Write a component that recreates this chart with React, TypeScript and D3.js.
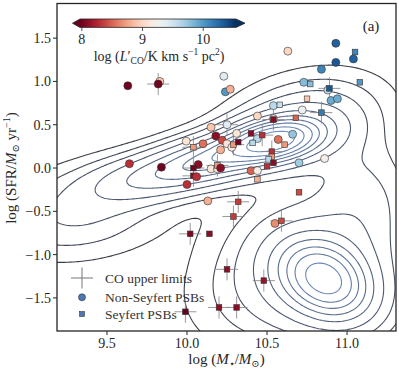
import React, { useMemo } from "react";
import * as d3 from "d3";

// background galaxy density, as a sum of gaussian blobs (mass, sfr, sx, sy, rho, weight)
const blobMass = [10.55, 10.7, 10.15, 9.75, 9.3, 10.87, 10.8, 10.4, 11.1];
const blobSfr = [0.32, 0.47, 0.1, -0.12, -0.55, -1.3, -1.2, -1.5, -0.4];
const blobSx = [0.2, 0.3, 0.25, 0.28, 0.35, 0.19, 0.3, 0.3, 0.22];
const blobSy = [0.17, 0.35, 0.2, 0.2, 0.32, 0.3, 0.5, 0.45, 0.5];
const blobRho = [0.3, 0.3, 0.35, 0.3, 0.15, -0.3, -0.2, 0, 0];
const blobW = [1.0, 0.35, 0.6, 0.35, 0.18, 0.75, 0.4, 0.1, 0.2];
const levels = [0.03, 0.07, 0.12, 0.2, 0.3, 0.4, 0.5, 0.6, 0.72, 0.85];

// PSB sample
const psbMass = [9.63, 9.83, 9.82, 10.23, 10.24, 10.27, 10.63, 10.93, 10.93, 11.05, 11.04, 10.84, 10.73, 10.77, 11.08, 10.88, 10.89, 10.9, 10.94, 10.75, 10.72, 10.84, 10.68, 10.54, 10.58, 10.44, 10.54, 10.54, 10.15, 10.25, 10.18, 10.22, 10.31, 10.4, 10.44, 10.41, 10.47, 10.57, 10.66, 10.61, 10.53, 10.53, 10.51, 10.54, 10.5, 10.7, 10.86, 9.995, 10.04, 10.1, 10.21, 10.25, 10.28, 10.29, 10.32, 9.64, 9.84, 10.07, 10.04, 10.04, 10.06, 10.15, 10.19, 10.19, 10.21, 10.0, 10.4, 10.44, 10.44, 10.13, 10.32, 10.29, 10.7, 10.55, 10.59, 10.02, 10.14, 10.25, 10.48, 10.2, 10.31, 9.99];
const psbSfr = [0.95, 1.0, 0.97, 1.06, 0.88, 0.91, 1.35, 1.44, 1.22, 1.34, 1.26, 1.14, 0.99, 0.97, 0.99, 0.9, 0.92, 0.78, 0.8, 0.8, 0.67, 0.64, 0.58, 0.72, 0.73, 0.6, 0.57, 0.56, 0.47, 0.5, 0.37, 0.32, 0.4, 0.4, 0.34, 0.29, 0.38, 0.33, 0.39, 0.27, 0.19, 0.13, 0.1, 0.06, 0.02, 0.06, 0.11, 0.31, 0.24, 0.28, 0.21, 0.28, 0.24, 0.27, 0.3, 0.05, 0.01, 0.04, 0.0, -0.09, -0.1, -0.01, -0.01, 0.03, 0.0, -0.19, -0.03, -0.03, -0.13, -0.38, -0.39, -0.56, -0.28, -0.64, -0.61, -0.76, -0.76, -1.17, -1.3, -1.61, -1.61, -1.66];
const psbLco = [8.0, 8.9, 8.0, 9.4, 10.0, 8.8, 9.0, 10.3, 10.35, 10.1, 10.3, 10.1, 9.8, 9.8, 10.0, 9.6, 10.35, 9.9, 9.9, 8.9, 9.3, 10.15, 8.5, 9.6, 9.55, 9.0, 9.1, 8.1, 8.9, 9.4, 8.1, 8.4, 9.1, 8.1, 9.6, 9.6, 8.3, 8.55, 9.75, 8.7, 8.3, 8.7, 9.6, 8.1, 8.3, 9.7, 9.2, 9.1, 8.7, 8.55, 8.8, 9.1, 9.1, 8.7, 8.0, 8.3, 8.0, 8.1, 8.0, 8.1, 8.3, 9.1, 9.1, 8.7, 8.1, 8.3, 8.5, 9.2, 8.8, 8.8, 8.35, 8.35, 8.4, 8.65, 8.4, 8.05, 8.1, 8.1, 8.15, 8.1, 8.1, 7.95];
const psbSeyfert = [0, 0, 0, 0, 0, 0, 0, 0, 0, 1, 0, 0, 0, 1, 1, 0, 1, 0, 0, 1, 0, 1, 1, 0, 1, 0, 0, 1, 0, 0, 0, 0, 0, 1, 0, 1, 1, 0, 0, 1, 1, 1, 1, 1, 1, 0, 0, 0, 1, 0, 0, 0, 0, 1, 1, 0, 0, 0, 1, 1, 0, 0, 0, 1, 0, 0, 0, 0, 1, 0, 1, 1, 1, 0, 1, 1, 1, 1, 1, 1, 1, 1];
const psbUpper = [0, 0, 1, 0, 0, 0, 0, 0, 0, 0, 0, 0, 0, 0, 0, 0, 1, 0, 0, 0, 0, 1, 0, 0, 0, 0, 0, 1, 0, 1, 0, 0, 0, 0, 0, 0, 1, 0, 0, 0, 1, 0, 0, 0, 0, 0, 0, 0, 1, 0, 0, 0, 0, 1, 0, 0, 0, 0, 1, 1, 0, 0, 0, 1, 0, 0, 0, 0, 0, 0, 1, 1, 0, 0, 1, 1, 0, 1, 1, 1, 1, 1];

const xTicks = [9.5, 10.0, 10.5, 11.0];
const yTicks = [-1.5, -1.0, -0.5, 0.0, 0.5, 1.0, 1.5];
const cbTicks = [8, 9, 10];
const cbRange = [7.97, 10.54];

const W = 399;
const H = 373;
const L = 57, R = 396, T = 3.5, B = 331;
const font = "'Liberation Serif', 'DejaVu Serif', serif";
const ink = "#262626";

export default function App() {
  const x = d3.scaleLinear().domain([9.1875, 11.306]).range([L, R]);
  const y = d3.scaleLinear().domain([-1.882, 1.9]).range([B, T]);
  const norm = d3.scaleLinear().domain(cbRange).range([0, 1]).clamp(true);
  const col = (v: number) => d3.interpolateRdBu(norm(v));

  const contours = useMemo(() => {
    const x0 = 8.9, x1 = 11.6, y0 = -2.2, y1 = 2.2;
    const n = 220, m = 260;
    const dx = (x1 - x0) / (n - 1), dy = (y1 - y0) / (m - 1);
    const vals = new Array(n * m);
    let mx = 0;
    for (let j = 0; j < m; j++) {
      const yy = y0 + j * dy;
      for (let i = 0; i < n; i++) {
        const xx = x0 + i * dx;
        let s = 0;
        for (let k = 0; k < blobW.length; k++) {
          const a = (xx - blobMass[k]) / blobSx[k];
          const b = (yy - blobSfr[k]) / blobSy[k];
          const r = blobRho[k];
          s += blobW[k] * Math.exp(-0.5 * (a * a - 2 * r * a * b + b * b) / (1 - r * r));
        }
        vals[j * n + i] = s;
        if (s > mx) mx = s;
      }
    }
    const gen = d3.contours().size([n, m]).thresholds(levels.map((l) => l * mx));
    const proj = d3.geoTransform({
      point(px: number, py: number) {
        this.stream.point(x(x0 + (px - 0.5) * dx), y(y0 + (py - 0.5) * dy));
      },
    });
    const path = d3.geoPath(proj);
    return gen(vals).map((c) => path(c) || "");
  }, []);

  const lineCol = d3.interpolateRgb("#3a3e48", "#6f8fc4");
  const cross = 11;

  const cbX = d3.scaleLinear().domain(cbRange).range([80, 236]);
  const stops = d3.range(0, 1.0001, 0.05);

  return (
    <svg width={W} height={H} style={{ display: "block", position: "absolute", left: 0, top: 0 }}>
      <defs>
        <clipPath id="plot">
          <rect x={L} y={T} width={R - L} height={B - T} />
        </clipPath>
        <linearGradient id="cb" x1="0" x2="1" y1="0" y2="0">
          {stops.map((s) => (
            <stop key={s} offset={s} stopColor={d3.interpolateRdBu(s)} />
          ))}
        </linearGradient>
      </defs>
      <rect width={W} height={H} fill="#fff" />

      <g clipPath="url(#plot)">
        {contours.map((d, i) => (
          <path key={i} d={d} fill="none" stroke={lineCol(i / (levels.length - 1))} strokeWidth={1.1} />
        ))}
        {psbMass.map((m, i) =>
          psbUpper[i] ? (
            <g key={"u" + i} stroke="#888" strokeWidth={1} opacity={0.85}>
              <line x1={x(m) - cross} x2={x(m) + cross} y1={y(psbSfr[i])} y2={y(psbSfr[i])} />
              <line x1={x(m)} x2={x(m)} y1={y(psbSfr[i]) - cross} y2={y(psbSfr[i]) + cross} />
            </g>
          ) : null
        )}
        {psbMass.map((m, i) =>
          psbSeyfert[i] ? (
            <rect key={"p" + i} x={x(m) - 2.8} y={y(psbSfr[i]) - 2.8} width={5.6} height={5.6}
              fill={col(psbLco[i])} stroke="#333" strokeWidth={0.6} />
          ) : (
            <circle key={"p" + i} cx={x(m)} cy={y(psbSfr[i])} r={4}
              fill={col(psbLco[i])} stroke="#333" strokeWidth={0.6} />
          )
        )}
      </g>

      {/* frame */}
      <rect x={L} y={T} width={R - L} height={B - T} fill="none" stroke={ink} strokeWidth={1.3} />
      {xTicks.map((t) => (
        <g key={t}>
          <line x1={x(t)} x2={x(t)} y1={B} y2={B + 4} stroke={ink} strokeWidth={1} />
          <text x={x(t)} y={B + 17} textAnchor="middle" fontFamily={font} fontSize={14} fill={ink}>
            {t.toFixed(1)}
          </text>
        </g>
      ))}
      {yTicks.map((t) => (
        <g key={t}>
          <line x1={L - 4} x2={L} y1={y(t)} y2={y(t)} stroke={ink} strokeWidth={1} />
          <text x={L - 6} y={y(t) + 5} textAnchor="end" fontFamily={font} fontSize={14} fill={ink}>
            {(t < 0 ? "\u2212" : "") + Math.abs(t).toFixed(1)}
          </text>
        </g>
      ))}

      <text x={(L + R) / 2} y={364} textAnchor="middle" fontFamily={font} fontSize={15} fill={ink}>
        log (<tspan fontStyle="italic">M</tspan>
        <tspan dy={3} fontSize={10}>⋆</tspan>
        <tspan dy={-3}>/</tspan>
        <tspan fontStyle="italic">M</tspan>
        <tspan dy={3} fontSize={10}>⊙</tspan>
        <tspan dy={-3}>)</tspan>
      </text>
      <text transform={`translate(16,${y(0)}) rotate(-90)`} textAnchor="middle" fontFamily={font} fontSize={15} fill={ink}>
        log (SFR/<tspan fontStyle="italic">M</tspan>
        <tspan dy={3} fontSize={10}>⊙</tspan>
        <tspan dy={-3}> yr</tspan>
        <tspan dy={-6} fontSize={10}>−1</tspan>
        <tspan dy={6}>)</tspan>
      </text>

      {/* colorbar */}
      <g>
        <polygon points={`80,19 72.5,23.2 80,27.4`} fill={d3.interpolateRdBu(0)} />
        <polygon points={`236,19 245,23.2 236,27.4`} fill={d3.interpolateRdBu(1)} />
        <rect x={80} y={19} width={156} height={8.4} fill="url(#cb)" />
        <polygon points={`80,19 72.5,23.2 80,27.4 236,27.4 245,23.2 236,19`} fill="none" stroke={ink} strokeWidth={0.8} />
        {cbTicks.map((t) => (
          <g key={t}>
            <line x1={cbX(t)} x2={cbX(t)} y1={27.4} y2={31} stroke={ink} strokeWidth={0.8} />
            <text x={cbX(t)} y={44} textAnchor="middle" fontFamily={font} fontSize={14} fill={ink}>{t}</text>
          </g>
        ))}
        <text x={159} y={61} textAnchor="middle" fontFamily={font} fontSize={14} fill={ink}>
          log (<tspan fontStyle="italic">L</tspan>′
          <tspan dy={3} fontSize={9.5}>CO</tspan>
          <tspan dy={-3}>/K km s</tspan>
          <tspan dy={-6} fontSize={9.5}>−1</tspan>
          <tspan dy={6}> pc</tspan>
          <tspan dy={-6} fontSize={9.5}>2</tspan>
          <tspan dy={6}>)</tspan>
        </text>
      </g>

      <text x={371} y={31} textAnchor="middle" fontFamily={font} fontSize={15} fill={ink}>(a)</text>

      {/* legend */}
      <g fontFamily={font} fontSize={13.5} fill="#333">
        <line x1={71} x2={93} y1={278} y2={278} stroke="#777" strokeWidth={1} />
        <line x1={82} x2={82} y1={267.5} y2={288.5} stroke="#777" strokeWidth={1} />
        <text x={105} y={283}>CO upper limits</text>
        <circle cx={82} cy={297.3} r={3.5} fill="#4c78b5" stroke="#333" strokeWidth={0.6} />
        <text x={105} y={302}>Non-Seyfert PSBs</text>
        <rect x={79.6} y={311.6} width={4.8} height={4.8} fill="#4c78b5" stroke="#333" strokeWidth={0.6} />
        <text x={105} y={319}>Seyfert PSBs</text>
      </g>
    </svg>
  );
}
